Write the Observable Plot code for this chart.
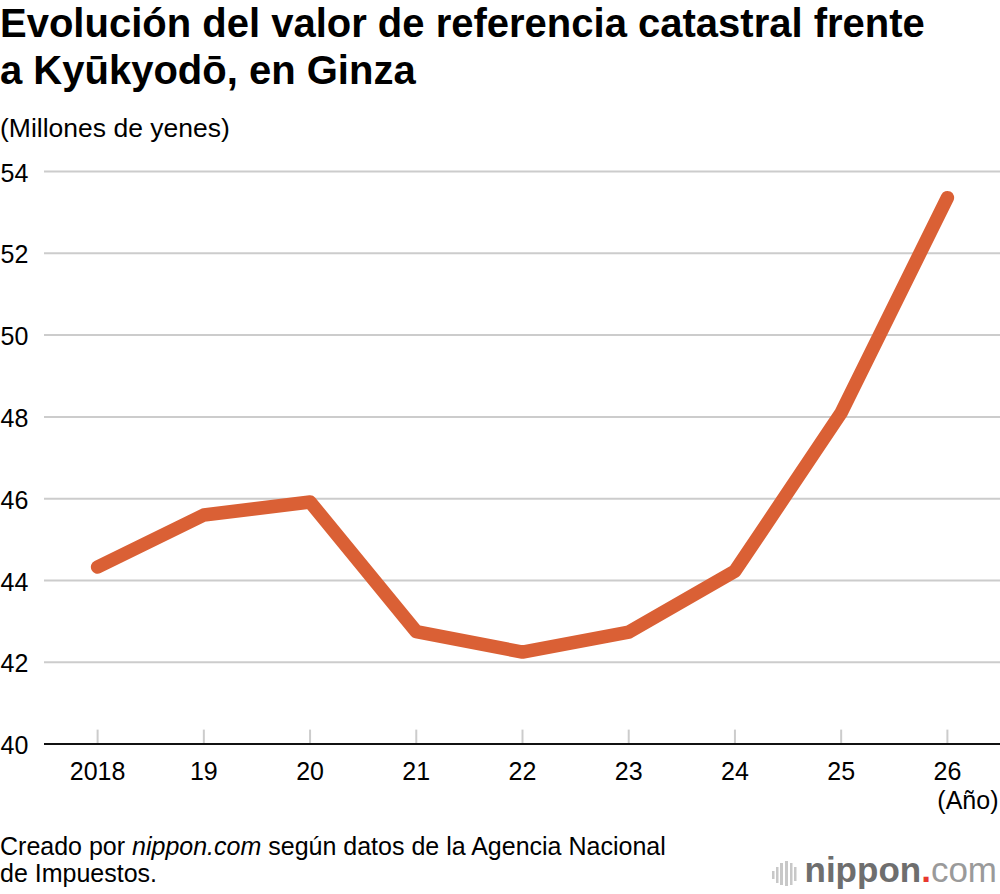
<!DOCTYPE html>
<html>
<head>
<meta charset="utf-8">
<script src="https://cdn.jsdelivr.net/npm/d3@7"></script>
<script src="https://cdn.jsdelivr.net/npm/@observablehq/plot@0.6"></script>
<style>
  html, body { margin: 0; padding: 0; background: #fff; }
  body { width: 1000px; height: 894px; position: relative; overflow: hidden; font-family: "Liberation Sans", Arial, Helvetica, sans-serif; color: #000; }
  #title { position: absolute; left: 0; top: 0; font-size: 40px; font-weight: bold; line-height: 47px; }
  #subtitle { position: absolute; left: 0; top: 113px; font-size: 26.5px; }
  #chart { position: absolute; left: 0; top: 150px; }
  #caption { position: absolute; left: 0; top: 833px; font-size: 25px; line-height: 27px; }
  #logo { position: absolute; left: 760px; top: 845px; }
</style>
</head>
<body>
<div id="title">Evolución del valor de referencia catastral frente<br>a Kyūkyodō, en Ginza</div>
<div id="subtitle">(Millones de yenes)</div>
<div id="chart"></div>
<div id="caption">Creado por <i>nippon.com</i> según datos de la Agencia Nacional<br>de Impuestos.</div>
<svg id="logo" width="240" height="50" xmlns="http://www.w3.org/2000/svg">
  <g fill="#c8c8c8">
    <rect x="12" y="26" width="2.5" height="8"/>
    <rect x="16" y="22" width="2.5" height="16"/>
    <rect x="20" y="18" width="3" height="22"/>
    <rect x="25" y="16" width="3" height="25"/>
    <rect x="30" y="18" width="2.5" height="22"/>
    <rect x="34" y="22" width="2.5" height="14"/>
  </g>
  <text x="237" y="37" text-anchor="end" font-family="Liberation Sans, Arial, sans-serif" font-size="35"><tspan font-weight="bold" fill="#6e6e6e">nippon</tspan><tspan fill="#e8382f" font-weight="bold">.</tspan><tspan fill="#9a9a9a">com</tspan></text>
</svg>
<script>
const years = [2018, 2019, 2020, 2021, 2022, 2023, 2024, 2025, 2026];
const values = [44.33, 45.6, 45.92, 42.75, 42.25, 42.74, 44.23, 48.1, 53.36];
const xTickLabels = ["2018", "19", "20", "21", "22", "23", "24", "25", "26"];
const yTicks = [40, 42, 44, 46, 48, 50, 52, 54];

const data = years.map((year, i) => ({ year, value: values[i] }));

const H = 670, MT = 21, MB = 76.4;
const frameH = H - MT - MB;

const chart = Plot.plot({
  width: 1000,
  height: H,
  marginTop: MT,
  marginBottom: MB,
  marginLeft: 44,
  marginRight: 0,
  style: { fontFamily: "'Liberation Sans', Arial, sans-serif", fontSize: "25px", color: "#000", background: "transparent", overflow: "visible" },
  x: { domain: [2017.5, 2026.5] },
  y: { domain: [40, 54] },
  marks: [
    Plot.ruleY(yTicks.filter(v => v > 40), { stroke: "#cccccc", strokeWidth: 2 }),
    Plot.ruleX(years, { stroke: "#cccccc", strokeWidth: 2, insetTop: frameH - 14 }),
    Plot.ruleY([40], { stroke: "#111", strokeWidth: 2 }),
    Plot.axisY({ ticks: yTicks, tickSize: 0, tickPadding: 0, textAnchor: "start", dx: -44, dy: 2, label: null, fill: "#000" }),
    Plot.axisX({ ticks: years, tickFormat: d => xTickLabels[years.indexOf(d)], tickSize: 0, tickPadding: 18, label: null, fill: "#000" }),
    Plot.line(data, { x: "year", y: "value", stroke: "#da6035", strokeWidth: 13.5, strokeLinecap: "round", strokeLinejoin: "round" }),
    Plot.text(["(Año)"], { text: d => d, frameAnchor: "bottom-right", dy: 65, dx: -2, textAnchor: "end", fill: "#000" })
  ]
});
document.getElementById("chart").appendChild(chart);
</script>
</body>
</html>
